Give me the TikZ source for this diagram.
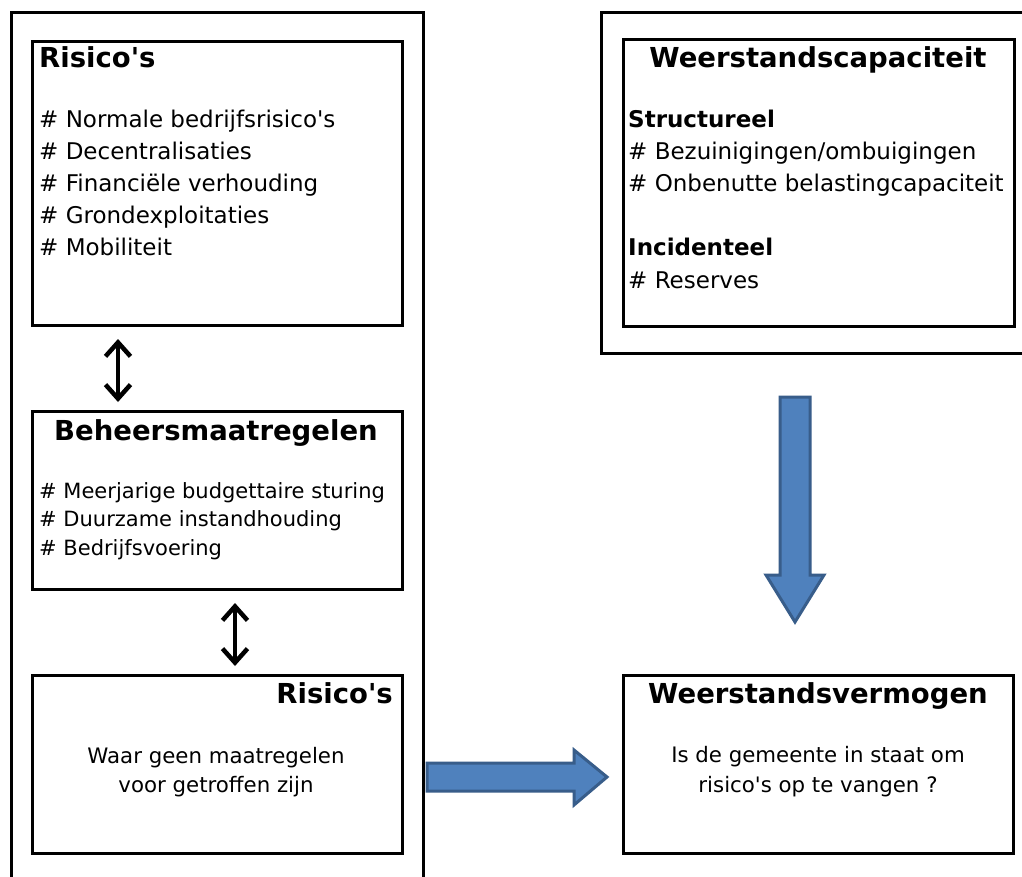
\documentclass[tikz,border=0pt]{standalone}
\usepackage{fontspec}
\setmainfont{DejaVu Sans}[Ligatures=TeXOff]
\usetikzlibrary{arrows.meta,calc}
\definecolor{arrfill}{HTML}{4F81BD}
\definecolor{arrdraw}{HTML}{385D8A}
\begin{document}
\begin{tikzpicture}[x=1pt,y=-1pt,
  box/.style={draw, line width=3pt, rectangle, inner sep=0pt, anchor=north west},
  ttl/.style={font=\fontsize{27.5pt}{33pt}\selectfont\bfseries, inner sep=0pt},
  sub/.style={font=\fontsize{23pt}{30pt}\selectfont\bfseries, inner sep=0pt, anchor=base west},
  itm/.style={font=\fontsize{23pt}{30pt}\selectfont, inner sep=0pt, anchor=base west},
  itms/.style={font=\fontsize{21pt}{28pt}\selectfont, inner sep=0pt, anchor=base west},
  txt/.style={font=\fontsize{21.3pt}{28pt}\selectfont, inner sep=0pt, anchor=base},
  dbl/.style={line width=4.5pt, {Straight Barb[length=14pt,width=25pt]}-{Straight Barb[length=14pt,width=25pt]}},
  blockarrow/.style={fill=arrfill, draw=arrdraw, line width=3pt, line join=miter}
]
\useasboundingbox (0,0) rectangle (1022,877);
\clip (0,0) rectangle (1022,877);
\fill[white] (0,0) rectangle (1022,877);

% outer frames
\node[box, minimum width=412pt, minimum height=900pt] (leftframe) at (10,11) {};
\node[box, minimum width=450pt, minimum height=341pt] (rightframe) at (600,11) {};

% boxes
\node[box, minimum width=370pt, minimum height=284pt] (risk) at (31,40) {};
\node[box, minimum width=370pt, minimum height=178pt] (beh) at (31,410) {};
\node[box, minimum width=370pt, minimum height=178pt] (rest) at (31,674) {};
\node[box, minimum width=391pt, minimum height=287pt] (cap) at (622,38) {};
\node[box, minimum width=390pt, minimum height=178pt] (verm) at (622,674) {};

% Risico's (top)
\node[ttl, anchor=base west] (riskT) at (39,68) {Risico's};
\foreach \t [count=\i] in {Normale bedrijfsrisico's, Decentralisaties, Financiële verhouding, Grondexploitaties, Mobiliteit}
  \node[itm] (riskI\i) at (39,{128+31.75*(\i-1)}) {\# \t};

% Beheersmaatregelen
\node[ttl, anchor=base] (behT) at (216,440) {Beheersmaatregelen};
\foreach \t [count=\i] in {Meerjarige budgettaire sturing, Duurzame instandhouding, Bedrijfsvoering}
  \node[itms] (behI\i) at (39,{498+28.5*(\i-1)}) {\# \t};

% Risico's (rest)
\node[ttl, anchor=base east] (restT) at (393,703) {Risico's};
\node[txt] (restL1) at (216,763) {Waar geen maatregelen};
\node[txt] (restL2) at (216,792) {voor getroffen zijn};

% Weerstandscapaciteit
\node[ttl, anchor=base] (capT) at (818,68) {Weerstandscapaciteit};
\node[sub] (capS1) at (628,128) {Structureel};
\node[itm] (capI1) at (628,160) {\# Bezuinigingen/ombuigingen};
\node[itm] (capI2) at (628,192) {\# Onbenutte belastingcapaciteit};
\node[sub] (capS2) at (628,256) {Incidenteel};
\node[itm] (capI3) at (628,288) {\# Reserves};

% Weerstandsvermogen
\node[ttl, anchor=base] (vermT) at (818,703) {Weerstandsvermogen};
\node[txt] (vermL1) at (818,762) {Is de gemeente in staat om};
\node[txt] (vermL2) at (818,792) {risico's op te vangen ?};

% double arrows
\coordinate (a1t) at ($(risk.south west)+(87,12)$);
\coordinate (a1b) at ($(beh.north west)+(87,-8)$);
\draw[dbl] (a1t) -- (a1b);
\coordinate (a2t) at ($(beh.south west)+(204,12)$);
\coordinate (a2b) at ($(rest.north west)+(204,-8)$);
\draw[dbl] (a2t) -- (a2b);

% block arrows
\draw[blockarrow] (780,397) -- (810,397) -- (810,575) -- (824,575) -- (795,622) -- (766,575) -- (780,575) -- cycle;
\draw[blockarrow] (427,763) -- (574,763) -- (574,750) -- (607,777) -- (574,805) -- (574,791) -- (427,791) -- cycle;
\end{tikzpicture}
\end{document}
